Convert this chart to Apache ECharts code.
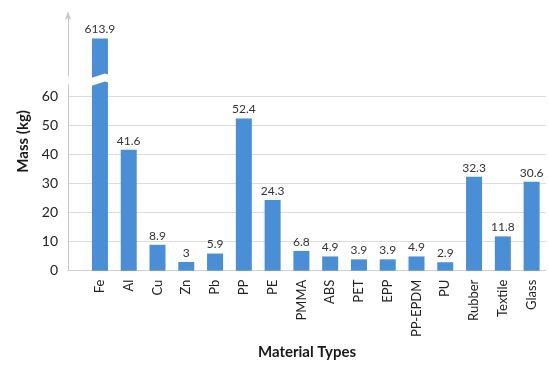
<!DOCTYPE html>
<html>
<head>
<meta charset="utf-8">
<title>Mass by material type</title>
<script src="https://cdn.jsdelivr.net/npm/echarts@6/dist/echarts.min.js"></script>
<style>
  html, body { margin: 0; padding: 0; background: #fff; }
  #chart { width: 549px; height: 365px; }
</style>
</head>
<body>
<div id="chart"></div>
<script>
// Material categories and their mass in kg
const categories = ['Fe', 'Al', 'Cu', 'Zn', 'Pb', 'PP', 'PE', 'PMMA', 'ABS', 'PET', 'EPP', 'PP-EPDM', 'PU', 'Rubber', 'Textile', 'Glass'];
const massKg = [613.9, 41.6, 8.9, 3, 5.9, 52.4, 24.3, 6.8, 4.9, 3.9, 3.9, 4.9, 2.9, 32.3, 11.8, 30.6];
// Labelled ticks on the mass axis
const yTicks = [0, 10, 20, 30, 40, 50, 60];

const FONT = 'Lato, "Liberation Sans", sans-serif';
const chart = echarts.init(document.getElementById('chart'), null, { renderer: 'canvas' });

chart.setOption({
  animation: false,
  backgroundColor: '#fff',
  textStyle: { fontFamily: FONT },
  grid: { left: 68, right: 3, top: 12, bottom: 92, containLabel: false },
  xAxis: {
    type: 'value',
    min: -1.11,
    max: 15.5,
    name: 'Material Types',
    nameLocation: 'middle',
    nameGap: 73,
    nameTextStyle: { fontFamily: FONT, fontSize: 15, fontWeight: 'bold', color: '#1a1a1a' },
    axisLine: { show: true, onZero: false, lineStyle: { color: '#cfcfcf', width: 1 } },
    axisTick: { show: false, customValues: categories.map((_, i) => i) },
    splitLine: { show: false },
    axisLabel: {
      customValues: categories.map((_, i) => i),
      rotate: 90,
      margin: 9,
      fontSize: 13,
      color: '#222',
      fontFamily: FONT,
      formatter: (v) => categories[Math.round(v)] || ''
    }
  },
  yAxis: {
    type: 'value',
    min: 0,
    max: 623,
    breaks: [{ start: 64, end: 601, gap: '3.4%' }],
    breakArea: {
      show: true,
      itemStyle: { color: '#fff', borderColor: 'rgba(0,0,0,0)', borderWidth: 0, opacity: 1 },
      zigzagAmplitude: 3
    },
    name: 'Mass (kg)',
    nameLocation: 'middle',
    nameGap: 33,
    nameRotate: 90,
    nameTextStyle: { fontFamily: FONT, fontSize: 15, fontWeight: 'bold', color: '#1a1a1a' },
    axisLine: {
      show: true,
      onZero: false,
      symbol: ['none', 'arrow'],
      symbolSize: [5, 8],
      lineStyle: { color: '#c8c8c8', width: 1 }
    },
    axisTick: { show: false, customValues: yTicks },
    splitLine: { show: true, lineStyle: { color: '#dcdcdc', width: 1 } },
    axisLabel: {
      customValues: yTicks,
      margin: 10,
      fontSize: 14,
      color: '#222',
      fontFamily: FONT,
      formatter: (v) => (v <= 60 ? String(v) : '')
    }
  },
  series: [{
    type: 'bar',
    barWidth: 16,
    itemStyle: { color: '#4a8fd6' },
    label: {
      show: true,
      position: 'top',
      distance: 3,
      fontSize: 12,
      color: '#333',
      fontFamily: FONT
    },
    data: massKg.map((v, i) => [i, v])
  }]
});
</script>
</body>
</html>
